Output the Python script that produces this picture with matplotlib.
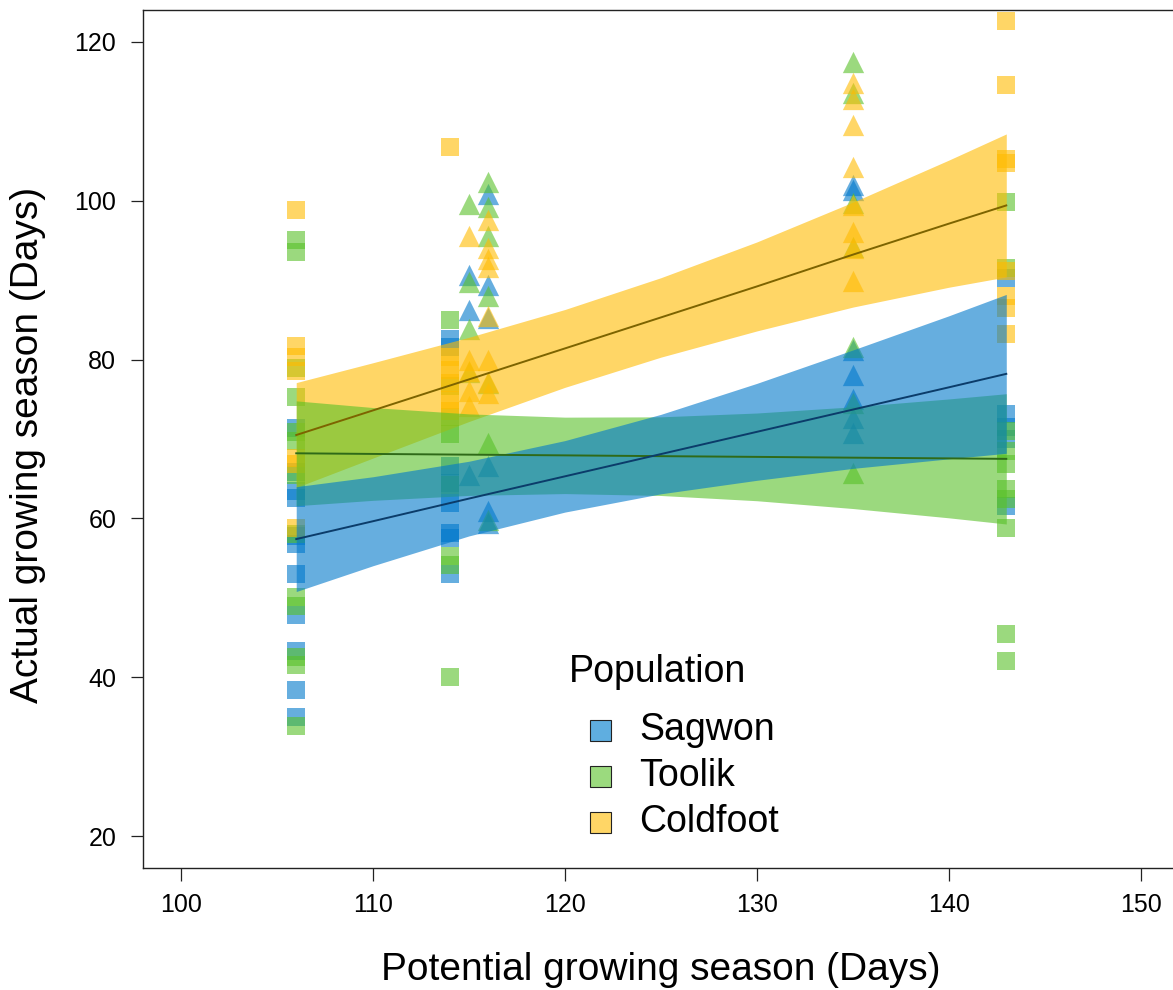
import numpy as np
import matplotlib
matplotlib.use('Agg')
import matplotlib.pyplot as plt
from matplotlib.patches import Rectangle

plt.rcParams['font.family'] = ['Liberation Sans', 'DejaVu Sans']

# ---- data ----
pops = ['Sagwon', 'Toolik', 'Coldfoot']

# squares (x = 106, 114, 143)
sag_sq_x = [106]*11 + [114]*8 + [143]*5
sag_sq_y = [71.4, 65.8, 63.4, 62.6, 57.8, 56.8, 53.0, 47.9, 43.3, 38.4, 35.0,
            82.6, 81.6, 66.6, 64.4, 62.0, 58.2, 57.6, 53.0,
            90.3, 73.1, 71.5, 70.0, 61.6]
too_sq_x = [106]*13 + [114]*8 + [143]*10
too_sq_y = [95.0, 93.5, 79.0, 75.3, 70.9, 69.7, 65.5, 58.0, 50.1, 49.0, 42.5, 41.5, 33.9,
            85.0, 76.7, 72.8, 70.6, 64.2, 55.3, 54.2, 40.0,
            99.8, 91.5, 71.0, 68.5, 66.8, 63.7, 62.5, 58.8, 45.4, 42.1]
col_sq_x = [106]*7 + [114]*6 + [143]*8
col_sq_y = [98.8, 81.7, 80.3, 78.6, 67.6, 66.8, 58.8,
            106.8, 80.3, 78.7, 77.0, 74.9, 73.5,
            122.6, 114.6, 105.2, 104.8, 91.2, 88.0, 86.5, 83.2]

# triangles (x = 115, 116, 135)
sag_tri_x = [115]*3 + [116]*6 + [135]*7
sag_tri_y = [90.6, 86.3, 65.5,
             100.9, 89.4, 85.2, 66.6, 61.0, 59.4,
             102.0, 101.3, 81.2, 78.0, 75.0, 72.7, 70.8]
too_tri_x = [115]*4 + [116]*7 + [135]*7
too_tri_y = [99.6, 89.8, 83.8, 78.4,
             102.3, 99.2, 95.5, 88.0, 77.0, 69.5, 59.8,
             117.4, 113.6, 99.7, 94.2, 81.6, 74.5, 65.7]
col_tri_x = [115]*5 + [116]*8 + [135]*8
col_tri_y = [95.6, 80.0, 78.6, 76.1, 74.2,
             97.6, 94.0, 92.7, 91.7, 85.5, 80.0, 77.2, 75.8,
             114.8, 112.8, 109.5, 104.2, 99.5, 96.1, 94.0, 89.9]

# fitted lines and confidence bands
fit_x = [106, 110, 115, 120, 125, 130, 135, 140, 143]
sag_fit = [57.4, 59.65, 62.5, 65.3, 68.1, 70.9, 73.7, 76.5, 78.2]
sag_lo = [50.8, 54.05, 57.8, 60.8, 63.1, 64.8, 66.3, 67.5, 68.2]
sag_hi = [64.0, 65.25, 67.2, 69.8, 73.1, 77.0, 81.2, 85.5, 88.2]
too_fit = [68.2, 68.12, 68.03, 67.94, 67.84, 67.75, 67.65, 67.56, 67.5]
too_lo = [61.6, 62.28, 62.9, 63.13, 62.89, 62.23, 61.25, 60.08, 59.3]
too_hi = [74.8, 73.96, 73.16, 72.75, 72.79, 73.27, 74.05, 75.04, 75.7]
col_fit = [70.5, 73.6, 77.5, 81.4, 85.3, 89.2, 93.2, 97.1, 99.4]
col_lo = [63.9, 67.6, 72.2, 76.5, 80.3, 83.6, 86.6, 89.1, 90.4]
col_hi = [77.1, 79.6, 82.8, 86.3, 90.3, 94.8, 99.8, 105.1, 108.4]

colors = {'Sagwon': '#0078CB', 'Toolik': '#58C128', 'Coldfoot': '#FFBB00'}
key_colors = {'Sagwon': '#5FAEE0', 'Toolik': '#9BDA7E', 'Coldfoot': '#FFD666'}
line_colors = {'Sagwon': '#0B3C6A', 'Toolik': '#2F6A18', 'Coldfoot': '#7D6400'}

W, H = 1173, 990
fig = plt.figure(figsize=(W/100, H/100), dpi=100)
ax = fig.add_axes([142.7/W, 1-868/H, (1179-142.7)/W, 858/H])

pts = {'Sagwon': (sag_sq_x, sag_sq_y, sag_tri_x, sag_tri_y),
       'Toolik': (too_sq_x, too_sq_y, too_tri_x, too_tri_y),
       'Coldfoot': (col_sq_x, col_sq_y, col_tri_x, col_tri_y)}
for p in pops:
    sx, sy, tx, ty = pts[p]
    ax.scatter(sx, sy, marker='s', s=185, color=colors[p], alpha=0.6, lw=0)
    ax.scatter(tx, ty, marker='^', s=235, color=colors[p], alpha=0.6, lw=0)

bands = {'Sagwon': (sag_fit, sag_lo, sag_hi),
         'Toolik': (too_fit, too_lo, too_hi),
         'Coldfoot': (col_fit, col_lo, col_hi)}
for p in ['Coldfoot', 'Toolik', 'Sagwon']:
    f, lo, hi = bands[p]
    ax.fill_between(fit_x, lo, hi, color=colors[p], alpha=0.6, lw=0)
for p in ['Coldfoot', 'Toolik', 'Sagwon']:
    ax.plot(fit_x, bands[p][0], color=line_colors[p], lw=1.4)

ax.set_xlim(98, 152)
ax.set_ylim(16, 124)
ax.set_xticks([100, 110, 120, 130, 140, 150])
ax.set_yticks([20, 40, 60, 80, 100, 120])
ax.tick_params(length=9, width=0.9, labelsize=18, color='#222222')
ax.tick_params(axis='x', pad=9)
ax.tick_params(axis='y', pad=10)
for s in ax.spines.values():
    s.set_linewidth(1.0)
    s.set_color('#222222')

ax.set_xlabel('Potential growing season (Days)', fontsize=28)
ax.set_ylabel('Actual growing season (Days)', fontsize=28)
ax.xaxis.set_label_coords(0.5, -(970-868)/858)
ax.xaxis.label.set_va('center')
ax.yaxis.set_label_coords((28-142.7)/1036.3, 0.493)
ax.yaxis.label.set_va('center')
ax.yaxis.label.set_ha('center')

# legend
fig.text(569/W, 1-672/H, 'Population', fontsize=27, ha='left', va='center')
for i, p in enumerate(pops):
    yc = [730, 776, 822][i]
    fig.patches.append(Rectangle(((600-10.5)/W, 1-(yc+10.5)/H), 21/W, 21/H,
                                 transform=fig.transFigure, facecolor=key_colors[p],
                                 edgecolor='#222222', lw=0.8))
    fig.text(639/W, 1-yc/H, p, fontsize=27, ha='left', va='center')

fig.savefig('out.png', dpi=100)
